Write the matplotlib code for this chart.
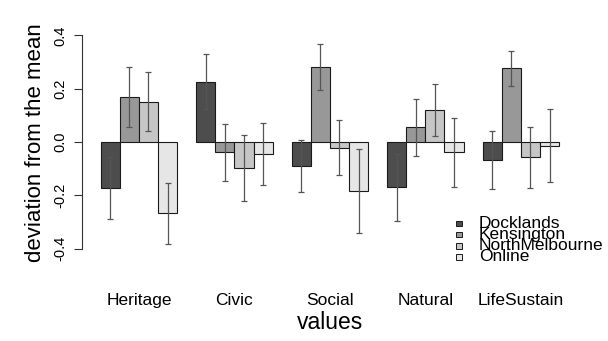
import matplotlib
matplotlib.use("Agg")
import matplotlib.pyplot as plt
from matplotlib.patches import Rectangle
import numpy as np

plt.rcParams['font.family'] = ['Liberation Sans', 'DejaVu Sans']

categories = ["Heritage", "Civic", "Social", "Natural", "LifeSustain"]
series = ["Docklands", "Kensington", "NorthMelbourne", "Online"]
colors = ["#4D4D4D", "#989898", "#C6C6C6", "#E6E6E6"]

docklands = [-0.174, 0.226, -0.090, -0.170, -0.068]
kensington = [0.170, -0.039, 0.282, 0.055, 0.276]
northmelb = [0.151, -0.096, -0.021, 0.120, -0.057]
online = [-0.267, -0.045, -0.184, -0.039, -0.014]

err_docklands = [0.116, 0.103, 0.097, 0.125, 0.110]
err_kensington = [0.113, 0.106, 0.086, 0.106, 0.065]
err_northmelb = [0.111, 0.124, 0.102, 0.099, 0.115]
err_online = [0.114, 0.116, 0.159, 0.130, 0.136]

values = [docklands, kensington, northmelb, online]
errors = [err_docklands, err_kensington, err_northmelb, err_online]

yticks = [-0.4, -0.2, 0.0, 0.2, 0.4]
ytick_labels = ["-0.4", "-0.2", "0.0", "0.2", "0.4"]

W, H = 608, 341
fig = plt.figure(figsize=(W / 100, H / 100), dpi=100)
ax_left, ax_right, ax_top, ax_bottom = 82.4, 577.4, 0, 285
ax = fig.add_axes([ax_left / W, 1 - ax_bottom / H, (ax_right - ax_left) / W, (ax_bottom - ax_top) / H])

ng = len(categories)
ns = len(series)
for j in range(ns):
    x = np.array([1 + (ns + 1) * g + j + 0.5 for g in range(ng)])
    ax.bar(x, values[j], width=1.0, color=colors[j], edgecolor="#1a1a1a", linewidth=0.8, zorder=2)
    ax.errorbar(x, values[j], yerr=errors[j], fmt='none', ecolor="#555555",
                elinewidth=0.9, capsize=2.3, capthick=0.9, zorder=3)

ax.set_xlim(0.04, 25.96)
ax.set_ylim((142 - 285) / 266.7, 142 / 266.7)

for s in ["top", "right", "bottom"]:
    ax.spines[s].set_visible(False)
ax.spines["left"].set_bounds(-0.4, 0.4)
ax.spines["left"].set_linewidth(0.8)
ax.spines["left"].set_color("#333333")

ax.set_yticks(yticks)
ax.set_yticklabels(ytick_labels, rotation=90, va="center", fontsize=10.5)
ax.tick_params(axis="y", length=6, width=0.8, color="#333333", pad=5)

centers = [1 + (ns + 1) * g + ns / 2 for g in range(ng)]
ax.set_xticks(centers)
ax.set_xticklabels(categories, fontsize=12.5)
ax.tick_params(axis="x", length=0, pad=6)

ax.set_xlabel("values", fontsize=16.5, labelpad=2)
ax.set_ylabel("deviation from the mean", fontsize=16, labelpad=5)

# legend (manual, R-style tight spacing)
row_y = [223.3, 234.4, 245.5, 256.6]
for j in range(ns):
    yc = row_y[j]
    fig.add_artist(Rectangle((456 / W, 1 - (yc + 3) / H), 6 / W, 5.5 / H,
                             transform=fig.transFigure, facecolor=colors[j],
                             edgecolor="#1a1a1a", linewidth=0.7))
    fig.text(479 / W, 1 - yc / H, series[j], fontsize=12.5, va="center", ha="left")

fig.savefig("out.png", dpi=100)
